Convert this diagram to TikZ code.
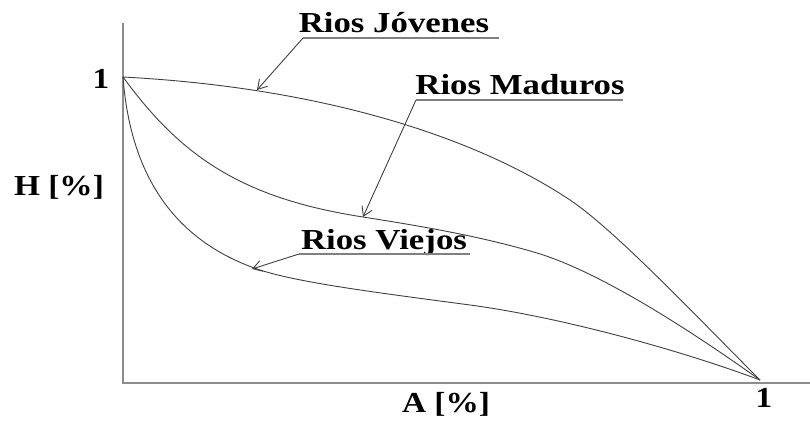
\documentclass[tikz,border=0pt]{standalone}
\usepackage{fontspec}
\setmainfont{Liberation Serif}
\usetikzlibrary{arrows.meta}
\begin{document}
\begin{tikzpicture}[x=1pt,y=-1pt,
  lbl/.style={font=\fontsize{29}{32}\selectfont\bfseries, inner sep=0pt, anchor=base, xscale=1.2},
  axlbl/.style={font=\fontsize{29}{32}\selectfont\bfseries, inner sep=0pt, anchor=base, xscale=1.15},
  axisline/.style={draw=black!45, line width=1.6pt},
  curve/.style={draw=black!75, line width=0.9pt},
  uline/.style={draw=black!50, line width=1.4pt},
  pointer/.style={draw=black!75, line width=0.9pt, -{Straight Barb[length=9pt,width=11pt]}}]
\useasboundingbox (0,0) rectangle (810,425);
% axes
\coordinate (ytop) at (123,23);
\coordinate (orig) at (123,383);
\coordinate (xend) at (810,383);
\draw[axisline] (ytop) -- (orig) -- (xend);
% common end points
\coordinate (s) at (123,77);
\coordinate (e) at (760,380);
% Rios Jovenes
\draw[curve] (s) .. controls (330,88) and (480,140) .. (570,200)
                 .. controls (615,230) and (700,320) .. (e);
% Rios Maduros
\draw[curve] (s) .. controls (180,155) and (240,198) .. (363,217)
                 .. controls (420,226) and (480,236) .. (537,253)
                 .. controls (600,272) and (690,330) .. (e);
% Rios Viejos
\draw[curve] (s) .. controls (130,170) and (170,240) .. (260,270)
                 .. controls (300,283) and (380,293) .. (470,305)
                 .. controls (560,317) and (680,350) .. (e);
% labels
\node[lbl] (jov) at (394,33) {Rios Jóvenes};
\node[lbl] (mad) at (520,95) {Rios Maduros};
\node[lbl] (vie) at (384,249) {Rios Viejos};
\coordinate (jovL) at (303,38); \coordinate (jovR) at (499,38);
\coordinate (madL) at (416,100); \coordinate (madR) at (623,100);
\coordinate (vieL) at (299,254); \coordinate (vieR) at (470,254);
\draw[uline] (jovL) -- (jovR);
\draw[uline] (madL) -- (madR);
\draw[uline] (vieL) -- (vieR);
\coordinate (jovT) at (257,90);
\coordinate (madT) at (363,217);
\coordinate (vieT) at (252,269);
\draw[pointer] (jovL) -- (jovT);
\draw[pointer] (madL) -- (madT);
\draw[pointer] (vieL) -- (vieT);
% axis labels
\node[axlbl] (h) at (59,195) {H [\%]};
\node[axlbl] (a) at (446,412) {A [\%]};
\node[axlbl] (one1) at (101,89) {1};
\node[axlbl] (one2) at (764,407) {1};
\end{tikzpicture}
\end{document}
